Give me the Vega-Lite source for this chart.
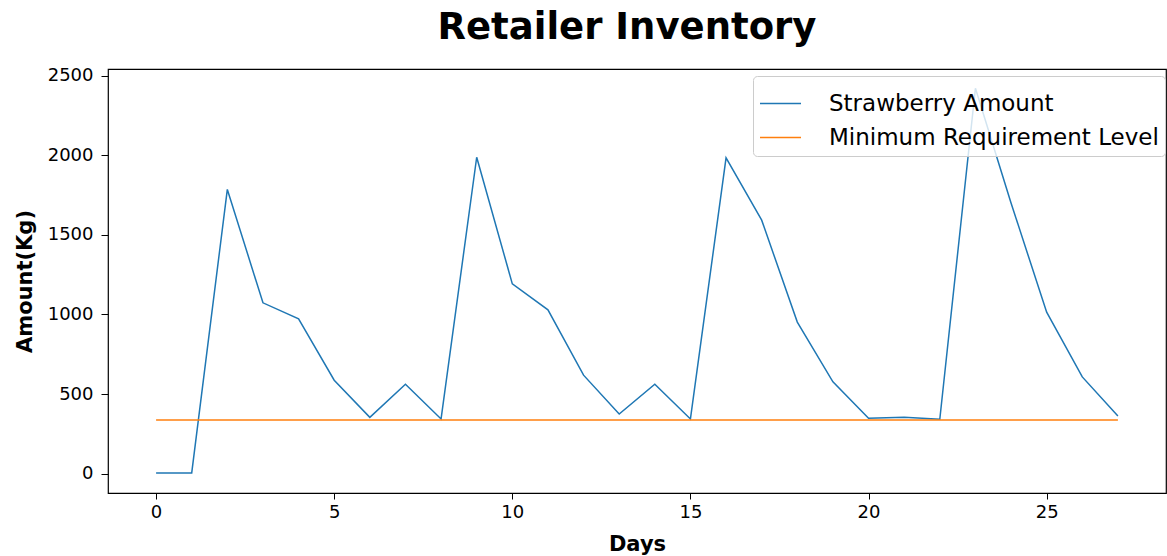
{
  "$schema": "https://vega.github.io/schema/vega-lite/v6.json",
  "autosize": "none",
  "width": 1058,
  "height": 424,
  "padding": {"left": 108, "top": 69, "right": 1, "bottom": 63},
  "background": "white",
  "title": {
    "text": "Retailer Inventory",
    "font": "DejaVu Sans",
    "fontSize": 37,
    "fontWeight": "bold",
    "color": "#000000",
    "anchor": "middle",
    "baseline": "alphabetic",
    "offset": -9,
    "dx": -10
  },
  "config": {
    "view": {"stroke": "#000000", "strokeWidth": 1.2},
    "font": "DejaVu Sans"
  },
  "data": {
    "values": [
      {"day": 0, "amount": 5, "series": "Strawberry Amount"},
      {"day": 1, "amount": 5, "series": "Strawberry Amount"},
      {"day": 2, "amount": 1785, "series": "Strawberry Amount"},
      {"day": 3, "amount": 1073, "series": "Strawberry Amount"},
      {"day": 4, "amount": 973, "series": "Strawberry Amount"},
      {"day": 5, "amount": 587, "series": "Strawberry Amount"},
      {"day": 6, "amount": 354, "series": "Strawberry Amount"},
      {"day": 7, "amount": 562, "series": "Strawberry Amount"},
      {"day": 8, "amount": 344, "series": "Strawberry Amount"},
      {"day": 9, "amount": 1987, "series": "Strawberry Amount"},
      {"day": 10, "amount": 1192, "series": "Strawberry Amount"},
      {"day": 11, "amount": 1029, "series": "Strawberry Amount"},
      {"day": 12, "amount": 619, "series": "Strawberry Amount"},
      {"day": 13, "amount": 375, "series": "Strawberry Amount"},
      {"day": 14, "amount": 562, "series": "Strawberry Amount"},
      {"day": 15, "amount": 344, "series": "Strawberry Amount"},
      {"day": 16, "amount": 1983, "series": "Strawberry Amount"},
      {"day": 17, "amount": 1592, "series": "Strawberry Amount"},
      {"day": 18, "amount": 952, "series": "Strawberry Amount"},
      {"day": 19, "amount": 577, "series": "Strawberry Amount"},
      {"day": 20, "amount": 348, "series": "Strawberry Amount"},
      {"day": 21, "amount": 354, "series": "Strawberry Amount"},
      {"day": 22, "amount": 342, "series": "Strawberry Amount"},
      {"day": 23, "amount": 2420, "series": "Strawberry Amount"},
      {"day": 24, "amount": 1700, "series": "Strawberry Amount"},
      {"day": 25, "amount": 1014, "series": "Strawberry Amount"},
      {"day": 26, "amount": 608, "series": "Strawberry Amount"},
      {"day": 27, "amount": 362, "series": "Strawberry Amount"},
      {"day": 0, "amount": 338, "series": "Minimum Requirement Level"},
      {"day": 27, "amount": 338, "series": "Minimum Requirement Level"}
    ]
  },
  "mark": {"type": "line", "strokeWidth": 1.5},
  "encoding": {
    "x": {
      "field": "day",
      "type": "quantitative",
      "title": "Days",
      "scale": {"domain": [-1.35, 28.35], "nice": false, "zero": false},
      "axis": {
        "values": [0, 5, 10, 15, 20, 25],
        "grid": false,
        "domain": false,
        "tickColor": "#000000",
        "tickSize": 6,
        "tickWidth": 1,
        "labelFontSize": 18,
        "labelColor": "#000000",
        "labelPadding": 4,
        "titleFontSize": 21,
        "titleFontWeight": "bold",
        "titleColor": "#000000",
        "titlePadding": 12
      }
    },
    "y": {
      "field": "amount",
      "type": "quantitative",
      "title": "Amount(Kg)",
      "scale": {"domain": [-121, 2541], "nice": false, "zero": false},
      "axis": {
        "values": [0, 500, 1000, 1500, 2000, 2500],
        "format": "d",
        "grid": false,
        "domain": false,
        "tickColor": "#000000",
        "tickSize": 7,
        "tickWidth": 1,
        "labelFontSize": 18,
        "labelColor": "#000000",
        "labelPadding": 8,
        "titleFontSize": 21,
        "titleFontWeight": "bold",
        "titleColor": "#000000",
        "titlePadding": 12
      }
    },
    "color": {
      "field": "series",
      "type": "nominal",
      "scale": {
        "domain": ["Strawberry Amount", "Minimum Requirement Level"],
        "range": ["#1f77b4", "#ff7f0e"]
      },
      "legend": {
        "title": null,
        "orient": "none",
        "legendX": 645,
        "legendY": 7,
        "symbolType": "stroke",
        "symbolSize": 1681,
        "symbolStrokeWidth": 1.5,
        "labelFontSize": 23,
        "labelColor": "#000000",
        "labelLimit": 0,
        "labelOffset": 27,
        "rowPadding": -4,
        "padding": 6,
        "fillColor": "rgba(255,255,255,0.8)",
        "strokeColor": "#cccccc",
        "cornerRadius": 4
      }
    }
  }
}
